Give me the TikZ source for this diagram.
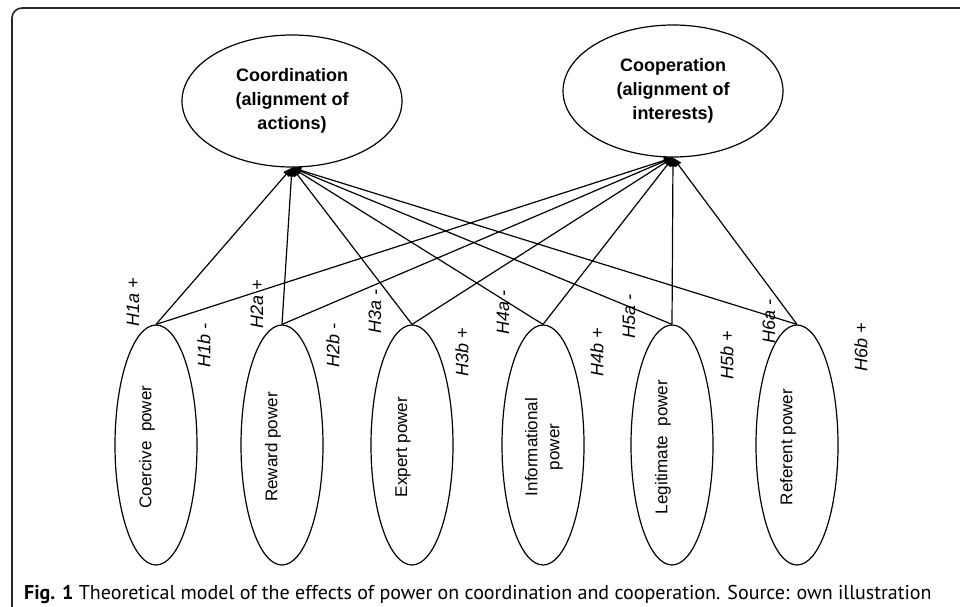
\documentclass[tikz,border=0pt]{standalone}
\usepackage{fontspec}
\setmainfont{Liberation Sans}
\newfontfamily\capfont{PT Sans}
\usetikzlibrary{shapes.geometric, arrows.meta}

\begin{document}
\begin{tikzpicture}[x=1pt, y=-1pt,
  outcome/.style={draw, ellipse, line width=1.2pt, minimum width=220pt, minimum height=132pt,
    inner sep=0pt, align=center, font=\fontsize{18}{24}\selectfont\bfseries},
  power/.style={draw, ellipse, line width=1.2pt, minimum width=82pt, minimum height=240pt, inner sep=0pt},
  ptext/.style={font=\fontsize{17}{22}\selectfont, rotate=90, align=center},
  hyp/.style={font=\fontsize{18}{22}\selectfont\itshape, rotate=90},
  link/.style={line width=1.2pt, -{Triangle[length=9pt, width=7pt]}}
]
\useasboundingbox (0,0) rectangle (960,607);
% Frame
\draw[line width=1.6pt, black!85, rounded corners=10pt] (12,607) -- (12,8) -- (960,8);

% Outcomes
\node[outcome] (coord) at (292,101) {Coordination\\(alignment of\\actions)};
\node[outcome] (coop) at (673,91) {Cooperation\\(alignment of\\interests)};

% Power bases
\node[power] (coer) at (156,445) {};
\node[ptext] (coertxt) at (147,447) {Coercive\ \ power};
\node[power] (rew) at (282,445) {};
\node[ptext] (rewtxt) at (273,447) {Reward power};
\node[power] (exp) at (412,445) {};
\node[ptext] (exptxt) at (403,447) {Expert power};
\node[power] (inf) at (543,445) {};
\node[ptext] (inftxt) at (544,447) {Informational\\power};
\node[power] (leg) at (672,445) {};
\node[ptext] (legtxt) at (663,447) {Legitimate\ \ power};
\node[power] (ref) at (797,445) {};
\node[ptext] (reftxt) at (788,447) {Referent power};

% Arrows to coordination
\draw[link] (coer.north) -- (coord.south);
\draw[link] (rew.north) -- (coord.south);
\draw[link] (exp.north) -- (coord.south);
\draw[link] (inf.north) -- (coord.south);
\draw[link] (leg.north) -- (coord.south);
\draw[link] (ref.north) -- (coord.south);
% Arrows to cooperation
\draw[link] (coer.north) -- (coop.south);
\draw[link] (rew.north) -- (coop.south);
\draw[link] (exp.north) -- (coop.south);
\draw[link] (inf.north) -- (coop.south);
\draw[link] (leg.north) -- (coop.south);
\draw[link] (ref.north) -- (coop.south);

% Hypotheses
\node[hyp] (h1a) at (133,302) {H1a +};
\node[hyp] (h1b) at (204,345) {H1b -};
\node[hyp] (h2a) at (257,304) {H2a +};
\node[hyp] (h2b) at (333,345) {H2b -};
\node[hyp] (h3a) at (375,311) {H3a -};
\node[hyp] (h3b) at (462,352) {H3b +};
\node[hyp] (h4a) at (503,312) {H4a -};
\node[hyp] (h4b) at (597,352) {H4b +};
\node[hyp] (h5a) at (629,316) {H5a -};
\node[hyp] (h5b) at (727,355) {H5b +};
\node[hyp] (h6a) at (769,321) {H6a -};
\node[hyp] (h6b) at (861,347) {H6b +};

% Caption
\node[font=\capfont\fontsize{20}{24}\selectfont, anchor=base west, inner sep=0pt] (cap) at (24,599)
  {\textbf{Fig. 1} Theoretical model of the effects of power on coordination and cooperation. Source: own illustration};
\end{tikzpicture}
\end{document}
